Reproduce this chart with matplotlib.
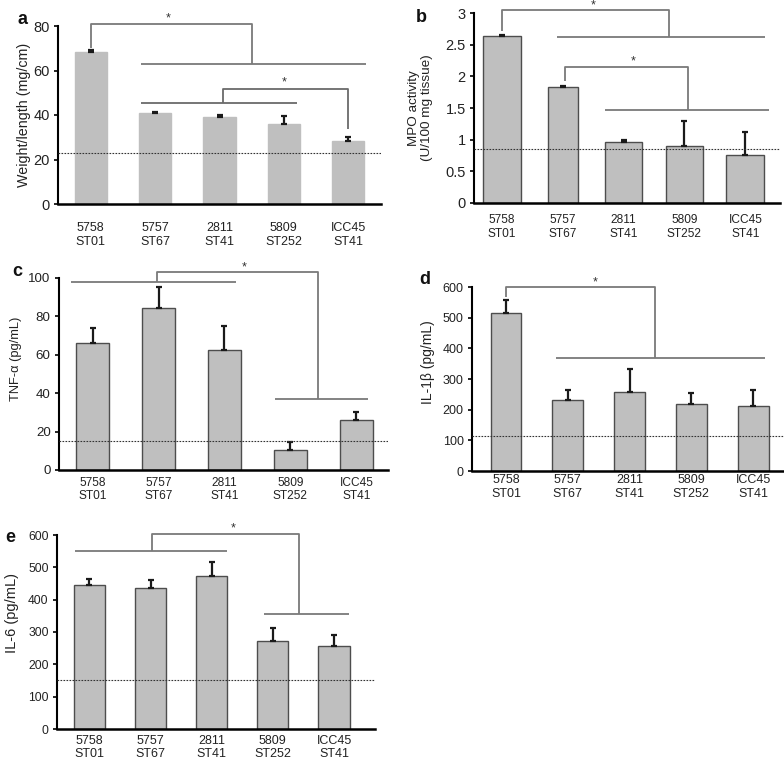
import matplotlib
matplotlib.use("Agg")
import matplotlib.pyplot as plt
import numpy as np

plt.rcParams['font.family'] = ['Liberation Sans', 'DejaVu Sans']

categories = ["5758\nST01", "5757\nST67", "2811\nST41", "5809\nST252", "ICC45\nST41"]

# Panel a: Weight/length (mg/cm)
a_vals = [68.5, 40.8, 39.2, 35.8, 28.2]
a_errs = [0.8, 0.7, 0.6, 3.7, 1.9]
a_ctrl = 22.7

# Panel b: MPO activity (U/100 mg tissue)
b_vals = [2.63, 1.83, 0.96, 0.90, 0.76]
b_errs = [0.03, 0.015, 0.03, 0.39, 0.36]
b_ctrl = 0.85

# Panel c: TNF-alpha (pg/mL)
c_vals = [66.3, 84.2, 62.5, 10.4, 26.0]
c_errs = [7.5, 11.0, 12.3, 4.2, 4.2]
c_ctrl = 14.9

# Panel d: IL-1beta (pg/mL)
d_vals = [515, 232, 258, 219, 212]
d_errs = [43, 31, 76, 34, 53]
d_ctrl = 115

# Panel e: IL-6 (pg/mL)
e_vals = [445, 435, 474, 273, 256]
e_errs = [19, 26, 42, 39, 36]
e_ctrl = 151

W, H = 784, 764
fig = plt.figure(figsize=(W / 100, H / 100), dpi=100)


def px_axes(l, t, r, b):
    return fig.add_axes([l / W, 1 - b / H, (r - l) / W, (b - t) / H])


BAR = '#bfbfbf'
EDGE = '#4d4d4d'
BRK = '#7a7a7a'
TXT = '#222222'


def panel(ax, vals, errs, ctrl, ylim, yticks, yticklabels, xlim, widths,
          edge, xpad, ylabel, ylab_xy, fs_y, fs_x, fs_lab):
    x = np.arange(len(vals))
    ax.bar(x, vals, width=widths, color=BAR,
           edgecolor=edge if edge else BAR, linewidth=1.0, zorder=2)
    ax.errorbar(x, vals, yerr=[np.zeros(len(errs)), errs], fmt='none',
                ecolor='#1a1a1a', elinewidth=1.6, capsize=2, capthick=1.6,
                zorder=3)
    ax.axhline(ctrl, color='#333333', linestyle=(0, (1.5, 1.2)), lw=0.8,
               zorder=4)
    ax.set_xlim(*xlim)
    ax.set_ylim(*ylim)
    ax.set_yticks(yticks)
    ax.set_yticklabels(yticklabels, fontsize=fs_y, color=TXT)
    ax.set_xticks(x)
    ax.set_xticklabels(categories, fontsize=fs_x, color=TXT,
                       linespacing=1.2)
    ax.tick_params(axis='x', length=0, pad=xpad)
    ax.tick_params(axis='y', length=3, width=1.2, direction='out', pad=3)
    for s in ['top', 'right']:
        ax.spines[s].set_visible(False)
    ax.spines['left'].set_linewidth(1.5)
    ax.spines['bottom'].set_linewidth(1.8)
    ax.set_ylabel(ylabel, fontsize=fs_lab, color=TXT, linespacing=1.1)
    ax.yaxis.set_label_coords(*ylab_xy)
    ax.set_facecolor('white')


def seg(ax, xs, ys, color=BRK):
    ax.plot(xs, ys, color=color, lw=1.3, clip_on=False, zorder=5,
            solid_capstyle='butt')


def bracket(ax, xa, ya, xb, yb, ytop, star, groupA=None, groupB=None,
            color=BRK, star_fs=9):
    seg(ax, [xa, xa, xb, xb], [ya, ytop, ytop, yb], color)
    if groupA is not None:
        seg(ax, [groupA[0], groupA[1]], [ya, ya], color)
    if groupB is not None:
        seg(ax, [groupB[0], groupB[1]], [yb, yb], color)
    ax.text(star[0], star[1], '*', ha='center', va='center', fontsize=star_fs,
            color='#333333', clip_on=False)


# ---- a ----
ax_a = px_axes(58, 26, 381, 204)
panel(ax_a, a_vals, a_errs, a_ctrl, (0, 80), [0, 20, 40, 60, 80],
      ['0', '20', '40', '60', '80'], (-0.51, 4.51), 0.5, None, 13,
      'Weight/length (mg/cm)', (-0.084, 0.5), 10.5, 9, 10.3)
bracket(ax_a, 0, 70.2, 2.5, 63.1, 80.7, (1.2, 83.2), groupB=(0.78, 4.27))
bracket(ax_a, 2.05, 45.5, 4.0, 33.5, 51.5, (3.0, 54.5), groupA=(0.78, 3.2),
        color='#6a6a6a')

# ---- b ----
ax_b = px_axes(474, 13, 780, 203)
panel(ax_b, b_vals, b_errs, b_ctrl, (0, 3), [0, 0.5, 1, 1.5, 2, 2.5, 3],
      ['0', '0.5', '1', '1.5', '2', '2.5', '3'], (-0.46, 4.57),
      [0.63, 0.49, 0.61, 0.62, 0.62], EDGE, 8,
      'MPO activity\n(U/100 mg tissue)', (-0.134, 0.5), 10.5, 8.6, 9.7)
bracket(ax_b, 0, 2.71, 2.74, 2.62, 3.05, (1.5, 3.12), groupB=(0.9, 4.33))
bracket(ax_b, 1.03, 1.93, 3.05, 1.47, 2.15, (2.15, 2.23), groupB=(1.7, 4.39))

# ---- c ----
ax_c = px_axes(59, 278, 388, 470)
panel(ax_c, c_vals, c_errs, c_ctrl, (0, 100), [0, 20, 40, 60, 80, 100],
      ['0', '20', '40', '60', '80', '100'], (-0.51, 4.48), 0.5, EDGE, 4.8,
      'TNF-α (pg/mL)', (-0.111, 0.58), 9.6, 8.6, 9.3)
bracket(ax_c, 0.98, 97.9, 3.42, 37.2, 103.0, (2.3, 105.5),
        groupA=(-0.33, 2.17), groupB=(2.77, 4.18))

# ---- d ----
ax_d = px_axes(472, 287, 784, 471)
panel(ax_d, d_vals, d_errs, d_ctrl, (0, 600), [0, 100, 200, 300, 400, 500, 600],
      ['0', '100', '200', '300', '400', '500', '600'], (-0.55, 4.5), 0.5,
      EDGE, 2.5, 'IL-1β (pg/mL)', (-0.119, 0.59), 9, 9, 10)
bracket(ax_d, 0, 566, 2.42, 370, 599, (1.45, 616), groupB=(0.81, 4.19))

# ---- e ----
ax_e = px_axes(57, 535, 375, 729)
panel(ax_e, e_vals, e_errs, e_ctrl, (0, 600), [0, 100, 200, 300, 400, 500, 600],
      ['0', '100', '200', '300', '400', '500', '600'], (-0.53, 4.67), 0.51,
      EDGE, 4, 'IL-6 (pg/mL)', (-0.121, 0.6), 8.7, 9, 10.5)
bracket(ax_e, 1.02, 551, 3.42, 357, 602, (2.35, 620),
        groupA=(-0.23, 2.25), groupB=(2.85, 4.25))

# panel letters
for lab, (px, py) in zip('abcde', [(22, 20), (421, 18), (17, 271), (425, 279),
                                   (10, 537)]):
    fig.text(px / W, 1 - py / H, lab, fontsize=13, fontweight='bold',
             ha='center', va='center', color='#111111')

fig.savefig('out.png', dpi=100, facecolor='white')
